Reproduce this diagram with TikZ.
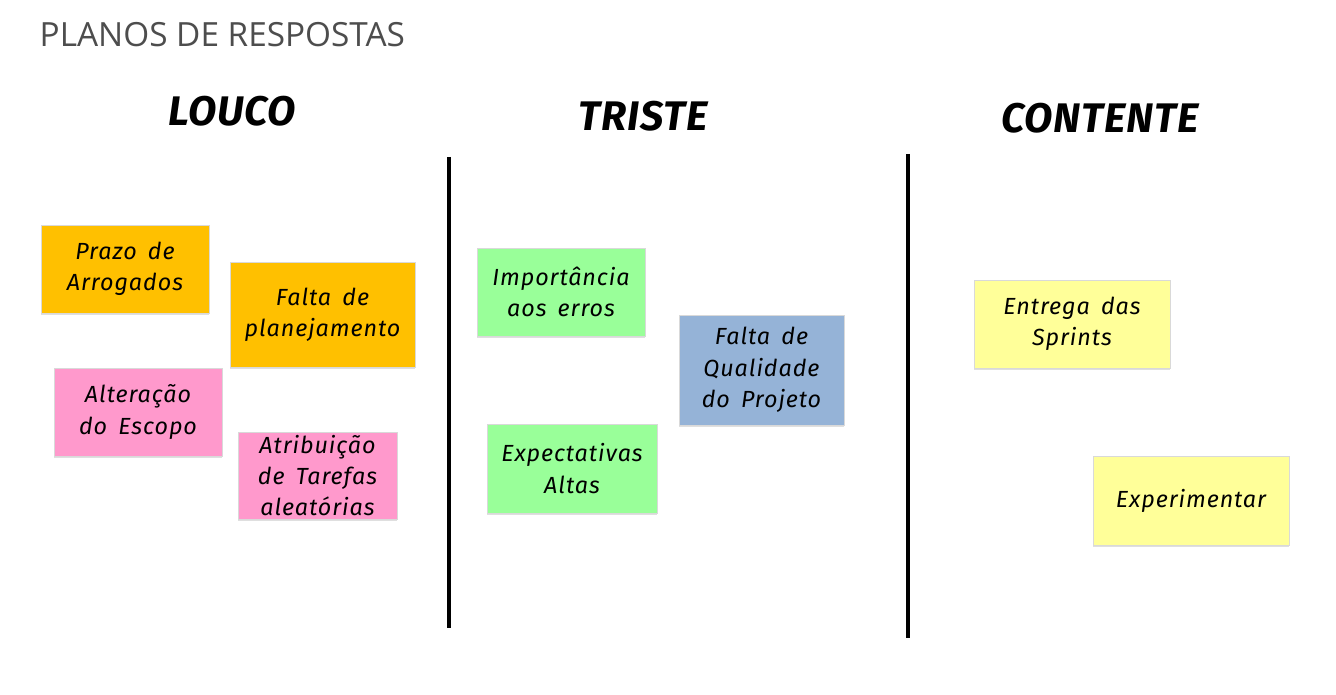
\documentclass[tikz,border=0pt]{standalone}
\usepackage{fontspec}
\setmainfont{Fira Sans}
\newfontfamily\titlefont{Open Sans}
\newfontfamily\notefont[LetterSpace=4, WordSpace=1.6]{Fira Sans}
\newfontfamily\headfont[LetterSpace=2]{Fira Sans}
\usetikzlibrary{shadows}
\definecolor{notebord}{HTML}{D9D9D9}
\definecolor{orangenote}{HTML}{FFC000}
\definecolor{pinknote}{HTML}{FF99CC}
\definecolor{greennote}{HTML}{99FF99}
\definecolor{bluenote}{HTML}{95B3D7}
\definecolor{yellownote}{HTML}{FFFF99}
\definecolor{titlegray}{HTML}{4D4D4D}
\tikzset{
  note/.style={draw=notebord, line width=0.6pt, inner sep=0pt, align=center,
    font=\notefont\fontsize{17.5}{23.5}\selectfont\itshape,
    drop shadow={shadow xshift=0pt, shadow yshift=-1.8pt, opacity=0.25, fill=gray}},
  heading/.style={font=\headfont\fontsize{31}{36}\selectfont\bfseries\itshape, anchor=center},
  divider/.style={line width=2.3pt, black},
}
\begin{document}
\begin{tikzpicture}[x=0.75pt, y=-0.75pt]
\useasboundingbox (0,0) rectangle (1336,695);
\fill[white] (0,0) rectangle (1336,695);
\node[anchor=west, text=titlegray, font=\titlefont\fontsize{25}{29}\selectfont] (title) at (35,35) {PLANOS DE RESPOSTAS};
\node[heading] (louco) at (232,111) {LOUCO};
\node[heading] (triste) at (643,116) {TRISTE};
\node[heading] (contente) at (1100,118) {CONTENTE};
\coordinate (d1t) at (449,157);
\coordinate (d1b) at (449,628);
\coordinate (d2t) at (908,154);
\coordinate (d2b) at (908,638);
\draw[divider] (d1t) -- (d1b);
\draw[divider] (d2t) -- (d2b);
% LOUCO
\node[note, fill=orangenote, minimum width=126pt, minimum height=66pt] (prazo) at (125,269) {Prazo de\\Arrogados};
\node[note, fill=orangenote, minimum width=138.75pt, minimum height=78.75pt] (falta1) at (322.5,314.5) {Falta de\\planejamento};
\node[note, fill=pinknote, minimum width=126pt, minimum height=66pt] (alter) at (138,412) {Altera\c{c}\~ao\\do Escopo};
\node[note, fill=pinknote, minimum width=119.25pt, minimum height=65.25pt] (atrib) at (317.5,475.5) {Atribui\c{c}\~ao\\de Tarefas\\aleat\'orias};
% TRISTE
\node[note, fill=greennote, minimum width=126pt, minimum height=66pt] (import) at (561,292) {Import\^ancia\\aos erros};
\node[note, fill=bluenote, minimum width=123.75pt, minimum height=82.5pt] (faltaq) at (761.5,370) {Falta de\\Qualidade\\do Projeto};
\node[note, fill=greennote, minimum width=127.5pt, minimum height=66.75pt] (expect) at (572,468.5) {Expectativas\\Altas};
% CONTENTE
\node[note, fill=yellownote, minimum width=147pt, minimum height=66pt] (entrega) at (1072,324) {Entrega das\\Sprints};
\node[note, fill=yellownote, minimum width=147pt, minimum height=66.75pt] (exper) at (1191,500.5) {Experimentar};
\end{tikzpicture}
\end{document}
